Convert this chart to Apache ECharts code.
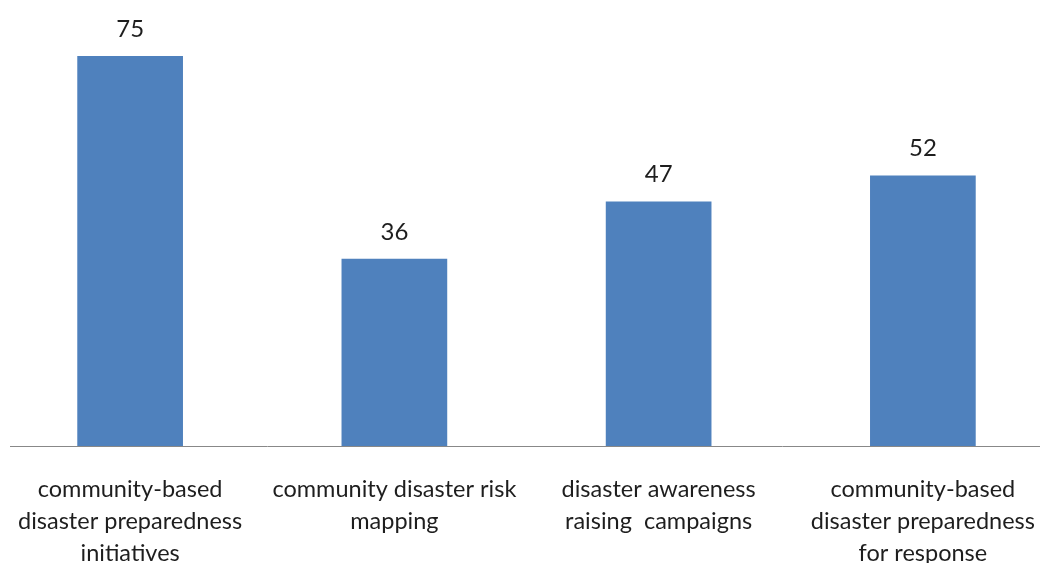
<!DOCTYPE html>
<html>
<head>
<meta charset="utf-8">
<script src="https://cdn.jsdelivr.net/npm/echarts@6/dist/echarts.min.js"></script>
<style>
  html, body { margin: 0; padding: 0; background: #fff; }
  #chart { width: 1040px; height: 563px; }
</style>
</head>
<body>
<div id="chart"></div>
<script>
// Activity categories (line breaks as they wrap under the axis)
const categories = [
  'community-based\ndisaster preparedness\ninitiatives',
  'community disaster risk\nmapping',
  'disaster awareness\nraising  campaigns',
  'community-based\ndisaster preparedness\nfor response'
];
const values = [75, 36, 47, 52];

const chart = echarts.init(document.getElementById('chart'), null, { renderer: 'canvas' });

const option = {
  animation: false,
  backgroundColor: '#ffffff',
  grid: {
    left: -2, right: -15, top: 30, bottom: 117,
    containLabel: false,
    outerBoundsMode: 'none'
  },
  xAxis: {
    type: 'category',
    data: categories,
    axisLine: { show: false },
    axisTick: { show: false },
    axisLabel: {
      interval: 0,
      margin: 27,
      fontFamily: 'Lato',
      fontSize: 23.5,
      lineHeight: 32,
      color: '#1e1e1e',
      verticalAlign: 'top'
    }
  },
  yAxis: {
    type: 'value',
    min: 0,
    max: 80,
    show: false,
    splitLine: { show: false }
  },
  series: [{
    type: 'bar',
    data: values,
    barWidth: '40%',
    itemStyle: { color: '#4F81BD' },
    label: {
      show: true,
      position: 'top',
      distance: 15,
      fontFamily: 'Lato',
      fontSize: 24,
      color: '#1e1e1e'
    }
  }]
};

chart.setOption(option);

// Baseline drawn across the visible width at the y = 0 level
const y0 = chart.convertToPixel({ yAxisIndex: 0 }, 0);
chart.setOption({
  graphic: [{
    type: 'line',
    shape: { x1: 10, y1: y0 + 0.5, x2: 1040, y2: y0 + 0.5 },
    style: { stroke: '#888888', lineWidth: 1 },
    z: 10
  }]
});
</script>
</body>
</html>
